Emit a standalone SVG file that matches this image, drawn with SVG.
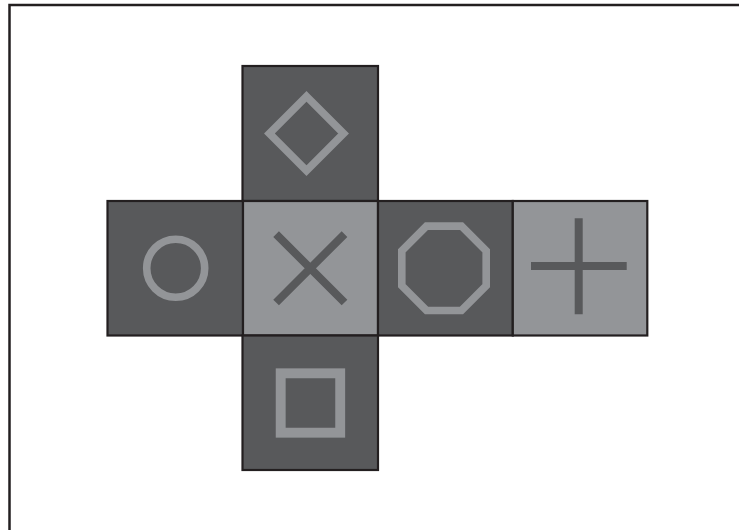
<svg xmlns="http://www.w3.org/2000/svg" width="739" height="530" viewBox="0 0 739 530">
<style>
.frame{fill:#ffffff;stroke:#231f20;stroke-width:2.5}
.dark{fill:#58595b;stroke:#231f20;stroke-width:2.2}
.light{fill:#939598;stroke:#231f20;stroke-width:2.2}
.symL{fill:none;stroke:#939598;stroke-width:7.6}
.symD{fill:none;stroke:#58595b;stroke-width:8}
</style>
<rect class="frame" x="9.5" y="5" width="740" height="540"/>
<g id="top">
<rect class="dark" x="242.5" y="66" width="135.5" height="135"/>
<polygon class="symL" points="306.5,96.4 343.6,133.5 306.5,170.6 269.4,133.5"/>
</g>
<g id="left">
<rect class="dark" x="107.5" y="201" width="135.5" height="134.5"/>
<circle class="symL" cx="175.7" cy="268.3" r="29"/>
</g>
<g id="center">
<rect class="light" x="243" y="201" width="135" height="134.5"/>
<path class="symD" d="M276.1,234.1L344.5,302.5M344.5,234.1L276.1,302.5"/>
</g>
<g id="right1">
<rect class="dark" x="378" y="201" width="134.8" height="134.5"/>
<polygon class="symL" points="426.5,226.1 461.5,226.1 486.2,250.8 486.2,285.8 461.5,310.5 426.5,310.5 401.8,285.8 401.8,250.8"/>
</g>
<g id="right2">
<rect class="light" x="512.8" y="201" width="134.5" height="134.5"/>
<path class="symD" d="M578.7,218.3V314.3M531,266H626.7"/>
</g>
<g id="bottom">
<rect class="dark" x="242.5" y="335.5" width="135.5" height="134.5"/>
<rect x="280.7" y="373.3" width="59.5" height="59.4" fill="none" stroke="#939598" stroke-width="9.9"/>
</g>
<g id="connectors"/>
</svg>
